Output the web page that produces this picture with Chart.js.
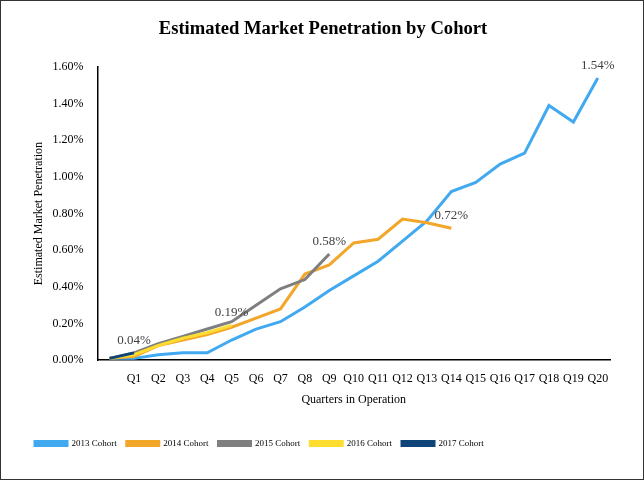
<!DOCTYPE html>
<html>
<head>
<meta charset="utf-8">
<script src="https://cdn.jsdelivr.net/npm/chart.js@4.4.1/dist/chart.umd.min.js"></script>
<style>
  html, body { margin: 0; padding: 0; background: #fff; }
  #wrap { width: 644px; height: 480px; box-sizing: border-box; border: 1px solid #333; }
</style>
</head>
<body>
<div id="wrap"><canvas id="chart"></canvas></div>
<script>
// quarters since launch, first slot is the unlabeled start point
const quarters = ["", "Q1", "Q2", "Q3", "Q4", "Q5", "Q6", "Q7", "Q8", "Q9", "Q10",
    "Q11", "Q12", "Q13", "Q14", "Q15", "Q16", "Q17", "Q18", "Q19", "Q20"];

const cohortNames = ["2013 Cohort", "2014 Cohort", "2015 Cohort", "2016 Cohort", "2017 Cohort"];

const cohort2013 = [0.01, 0.01, 0.03, 0.04, 0.04, 0.11, 0.17, 0.21, 0.29, 0.38, 0.46,
    0.54, 0.65, 0.76, 0.92, 0.97, 1.07, 1.13, 1.39, 1.30, 1.54];
const cohort2014 = [0.01, 0.02, 0.08, 0.11, 0.14, 0.18, 0.23, 0.28, 0.47, 0.52, 0.64,
    0.66, 0.77, 0.75, 0.72];
const cohort2015 = [0.01, 0.04, 0.09, 0.13, 0.17, 0.21, 0.30, 0.39, 0.44, 0.58];
const cohort2016 = [0.01, 0.03, 0.08, 0.12, 0.15, 0.19];
const cohort2017 = [0.01, 0.04];

const yTicks = [0, 0.2, 0.4, 0.6, 0.8, 1.0, 1.2, 1.4, 1.6];

const chartTitle = "Estimated Market Penetration by Cohort";
const colors = ["#41A9F0", "#F2A62A", "#7F7F7F", "#FFDD2E", "#0E4478"];
const series = [cohort2013, cohort2014, cohort2015, cohort2016, cohort2017];

const serif = "'Liberation Serif', 'Times New Roman', serif";

// title centred on the whole canvas, not on the padded layout box
const pageTitle = {
    id: "pageTitle",
    afterDraw(chart) {
        const ctx = chart.ctx;
        ctx.save();
        ctx.font = "bold 18.6px " + serif;
        ctx.fillStyle = "#000";
        ctx.textAlign = "center";
        ctx.textBaseline = "middle";
        ctx.fillText(chartTitle, chart.width / 2 + 1, 28);
        ctx.restore();
    }
};

// writes the last value of each cohort just above its end point
const endLabels = {
    id: "endLabels",
    afterDatasetsDraw(chart) {
        const ctx = chart.ctx;
        ctx.save();
        ctx.font = "13px " + serif;
        ctx.fillStyle = "#404040";
        ctx.textAlign = "center";
        ctx.textBaseline = "bottom";
        chart.data.datasets.forEach((ds, i) => {
            const meta = chart.getDatasetMeta(i);
            const last = ds.data.length - 1;
            const pt = meta.data[last];
            if (!pt) return;
            ctx.fillText(ds.data[last].toFixed(2) + "%", pt.x, pt.y - 6);
        });
        ctx.restore();
    }
};

const ctx = document.getElementById("chart").getContext("2d");
new Chart(ctx, {
    type: "line",
    data: {
        labels: quarters,
        datasets: series.map((values, i) => ({
            label: cohortNames[i],
            data: values,
            borderColor: colors[i],
            backgroundColor: colors[i],
            borderWidth: 3,
            pointRadius: 0,
            tension: 0,
            order: series.length - i,
        })),
    },
    options: {
        responsive: true,
        maintainAspectRatio: false,
        animation: false,
        layout: { padding: { left: 24, right: 33, top: 66, bottom: 21 } },
        plugins: {
            title: { display: false },
            legend: {
                position: "bottom",
                align: "start",
                labels: {
                    boxWidth: 32,
                    boxHeight: 4,
                    padding: 10,
                    color: "#000",
                    font: { family: serif, size: 9 },
                    sort: (a, b) => a.datasetIndex - b.datasetIndex,
                },
            },
            tooltip: { enabled: false },
        },
        scales: {
            x: {
                offset: true,
                grid: { display: false },
                border: { color: "#000", width: 1.5 },
                ticks: {
                    color: "#000",
                    autoSkip: false,
                    maxRotation: 0,
                    font: { family: serif, size: 12 },
                },
                title: {
                    display: true,
                    text: "Quarters in Operation",
                    color: "#000",
                    padding: { top: 4, bottom: 22 },
                    font: { family: serif, size: 12 },
                },
            },
            y: {
                min: 0,
                max: 1.6,
                afterBuildTicks: (axis) => { axis.ticks = yTicks.map(v => ({ value: v })); },
                grid: { display: false },
                border: { color: "#000", width: 1.5 },
                ticks: {
                    color: "#000",
                    padding: 6,
                    font: { family: serif, size: 12 },
                    callback: (v) => v.toFixed(2) + "%",
                },
                title: {
                    display: true,
                    text: "Estimated Market Penetration",
                    color: "#000",
                    padding: { top: 7, bottom: 0 },
                    font: { family: serif, size: 12 },
                },
            },
        },
    },
    plugins: [endLabels, pageTitle],
});
</script>
</body>
</html>
